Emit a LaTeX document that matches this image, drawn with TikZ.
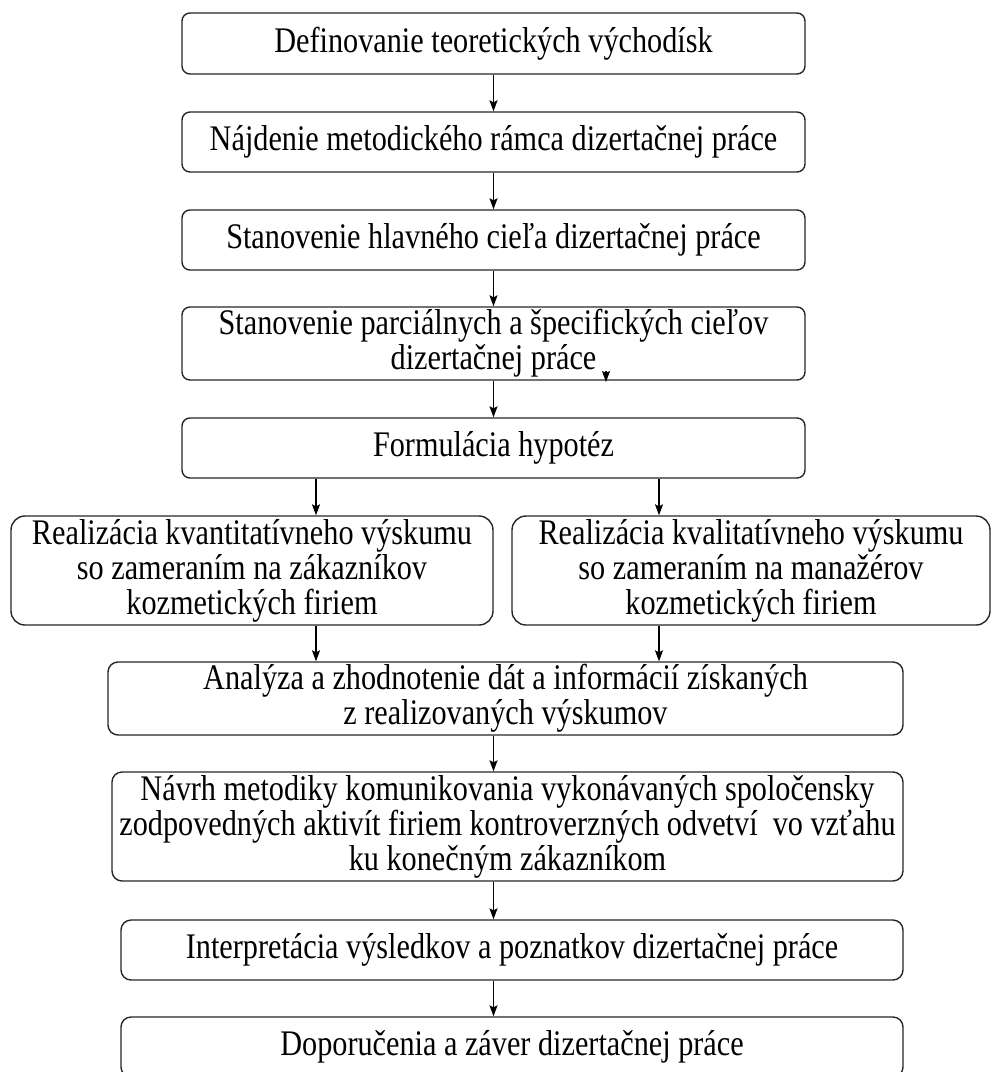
\documentclass[tikz,border=0pt]{standalone}
\usepackage{fontspec}
\setmainfont{Liberation Serif}[FakeStretch=0.84]
\usetikzlibrary{arrows.meta}

\tikzset{
  flowbox/.style={draw=black!85, line width=1.4pt, rounded corners=8pt,
    inner sep=0pt, align=center, font=\fontsize{36}{35}\selectfont},
  widebox/.style={flowbox, rounded corners=14pt},
  arr/.style={draw=black, line width=1.2pt, -{Stealth[length=11pt,width=8pt,inset=2pt]}},
}

\begin{document}
\begin{tikzpicture}[x=1pt, y=-1pt]
  \useasboundingbox (0,0) rectangle (991,1072);
  \clip (0,0) rectangle (991,1072);

  % main chain
  \node[flowbox, minimum width=623pt, minimum height=61pt] (b1) at (493.5,43.5)
    {Definovanie teoretických východísk};
  \node[flowbox, minimum width=623pt, minimum height=60pt] (b2) at (493.5,142)
    {Nájdenie metodického rámca dizertačnej práce};
  \node[flowbox, minimum width=623pt, minimum height=60pt] (b3) at (493.5,240)
    {Stanovenie hlavného cieľa dizertačnej práce};
  \node[flowbox, minimum width=623pt, minimum height=73pt] (b4) at (493.5,343.5)
    {Stanovenie parciálnych a špecifických cieľov\\dizertačnej práce};
  \node[flowbox, minimum width=623pt, minimum height=60pt] (b5) at (493.5,448)
    {Formulácia hypotéz};

  % two research branches
  \node[widebox, minimum width=482pt, minimum height=109pt] (left) at (252,570.5)
    {Realizácia kvantitatívneho výskumu\\so zameraním na zákazníkov\\kozmetických firiem};
  \node[widebox, minimum width=478pt, minimum height=109pt] (right) at (751,570.5)
    {Realizácia kvalitatívneho výskumu\\so zameraním na manažérov\\kozmetických firiem};

  % final steps
  \node[flowbox, rounded corners=10pt, minimum width=795pt, minimum height=73pt] (an) at (505.5,698.5)
    {Analýza a zhodnotenie dát a informácií získaných\\z realizovaných výskumov};
  \node[flowbox, rounded corners=10pt, minimum width=791pt, minimum height=109pt] (na) at (507.5,826.5)
    {Návrh metodiky komunikovania vykonávaných spoločensky\\zodpovedných aktivít firiem kontroverzných odvetví\ \ vo vzťahu\\ku konečným zákazníkom};
  \node[flowbox, rounded corners=10pt, minimum width=782pt, minimum height=60pt] (in) at (512,950)
    {Interpretácia výsledkov a poznatkov dizertačnej práce};
  \node[flowbox, rounded corners=10pt, minimum width=782pt, minimum height=60pt] (dp) at (512,1047)
    {Doporučenia a záver dizertačnej práce};

  % branch columns and the short stray arrow
  \coordinate (colL) at (316,0);
  \coordinate (colR) at (659,0);
  \coordinate (s1) at (606,371);
  \coordinate (s2) at (606,382);

  % connectors
  \draw[arr] (b1) -- (b2);
  \draw[arr] (b2) -- (b3);
  \draw[arr] (b3) -- (b4);
  \draw[arr] (b4) -- (b5);
  \draw[arr] (b5.south -| colL) -- (left.north -| colL);
  \draw[arr] (b5.south -| colR) -- (right.north -| colR);
  \draw[arr] (left.south -| colL) -- (an.north -| colL);
  \draw[arr] (right.south -| colR) -- (an.north -| colR);
  \draw[arr] (an.south -| b1.south) -- (na.north -| b1.south);
  \draw[arr] (na.south -| b1.south) -- (in.north -| b1.south);
  \draw[arr] (in.south -| b1.south) -- (dp.north -| b1.south);
  \draw[arr] (s1) -- (s2);
\end{tikzpicture}
\end{document}
